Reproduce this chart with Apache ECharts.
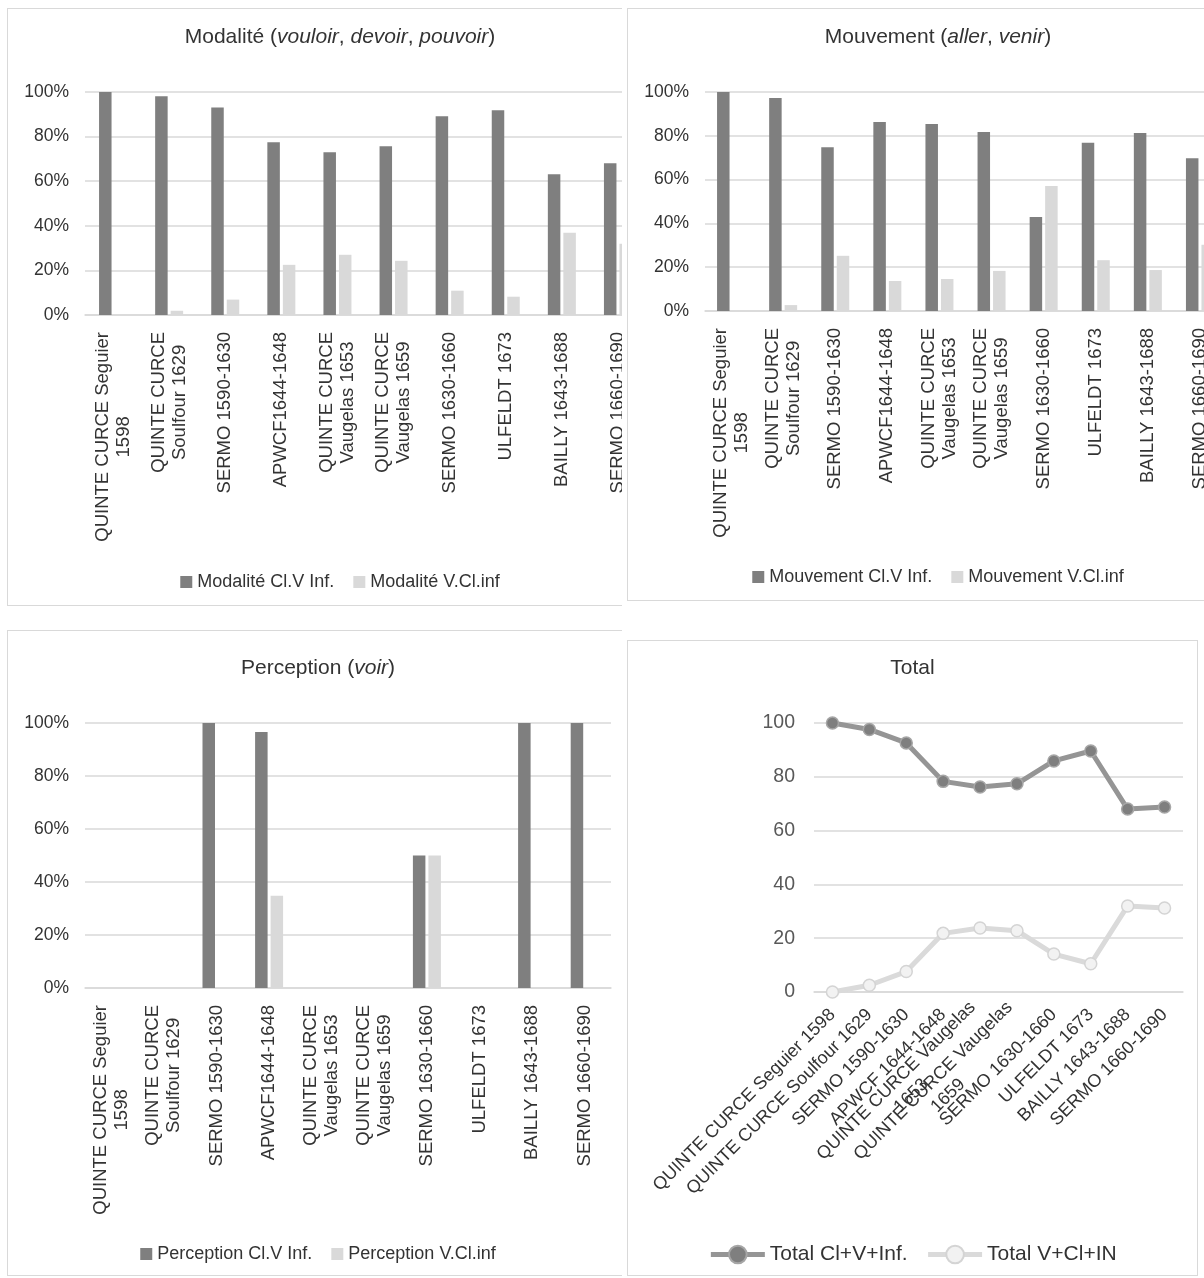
<!DOCTYPE html>
<html>
<head>
<meta charset="utf-8">
<script src="https://cdn.jsdelivr.net/npm/echarts@6/dist/echarts.min.js"></script>
<style>
  body { margin: 0; background: #fff; width: 1204px; height: 1278px; position: relative; overflow: hidden; }
  .clip { position: absolute; overflow: hidden; }
  .box { position: absolute; border: 1px solid #d9d9d9; box-sizing: border-box; background: #fff; }
</style>
</head>
<body>
<div class="clip" style="left:0;top:0;width:622px;height:620px">
  <div class="box" id="c1" style="left:7px;top:8px;width:666px;height:598px"></div>
</div>
<div class="clip" style="left:622px;top:0;width:582px;height:620px">
  <div class="box" id="c2" style="left:5px;top:8px;width:622px;height:593px"></div>
</div>
<div class="clip" style="left:0;top:620px;width:622px;height:658px">
  <div class="box" id="c3" style="left:7px;top:10px;width:622px;height:646px"></div>
</div>
<div class="box" id="c4" style="left:627px;top:640px;width:571px;height:636px"></div>

<script>
// categories (Excel wraps some of them on two lines)
const barCategories = [
  "QUINTE CURCE Seguier\n1598", "QUINTE CURCE\nSoulfour 1629", "SERMO 1590-1630",
  "APWCF1644-1648", "QUINTE CURCE\nVaugelas 1653", "QUINTE CURCE\nVaugelas 1659",
  "SERMO 1630-1660", "ULFELDT 1673", "BAILLY 1643-1688", "SERMO 1660-1690"
];
const totalCategories = [
  "QUINTE CURCE Seguier 1598", "QUINTE CURCE Soulfour 1629", "SERMO 1590-1630",
  "APWCF 1644-1648", "QUINTE CURCE Vaugelas\n1653", "QUINTE CURCE Vaugelas\n1659",
  "SERMO 1630-1660", "ULFELDT 1673", "BAILLY 1643-1688", "SERMO 1660-1690"
];

// valeurs en %
const modaliteClV = [100, 98.1, 93.1, 77.5, 73.0, 75.7, 89.1, 91.8, 63.1, 68.1];
const modaliteVCl = [0, 1.9, 6.9, 22.5, 27.0, 24.3, 10.9, 8.2, 36.9, 31.9];
const mouvementClV = [100, 97.3, 74.8, 86.3, 85.4, 81.7, 42.9, 76.8, 81.3, 69.8];
const mouvementVCl = [0, 2.7, 25.2, 13.7, 14.6, 18.3, 57.1, 23.2, 18.7, 30.2];
const perceptionClV = [0, 0, 100, 96.6, 0, 0, 50, 0, 100, 100];
const perceptionVCl = [0, 0, 0, 34.8, 0, 0, 50, 0, 0, 0];
const totalClV = [100, 97.6, 92.6, 78.3, 76.2, 77.4, 85.9, 89.6, 68.0, 68.8];
const totalVCl = [0, 2.5, 7.6, 21.8, 23.8, 22.8, 14.1, 10.5, 32.0, 31.2];

const FONT = "Liberation Sans, Arial, sans-serif";
const DARK = "#7f7f7f";
const LIGHT = "#d9d9d9";
const TXT = "#333333";

// each line of a label centered, like Excel does
function centerLines(v) {
  return v.split("\n").map((s) => "{c|" + s + "}").join("\n");
}

function titleRich(parts) {
  // parts: [text, italic?]
  return parts.map((p) => (p[1] ? "{i|" + p[0] + "}" : "{n|" + p[0] + "}")).join("");
}

const labelRich = { c: { align: "center", fontSize: 18.5, lineHeight: 21, color: TXT, fontFamily: FONT } };

function barOption(title, titleTop, names, a, b, grid, legendTop) {
  return {
    animation: false,
    textStyle: { fontFamily: FONT },
    title: {
      text: title,
      left: "center",
      top: titleTop,
      textStyle: {
        fontWeight: "normal",
        fontSize: 21,
        rich: {
          n: { fontSize: 21, color: TXT, fontFamily: FONT, fontWeight: "normal" },
          i: { fontSize: 21, color: TXT, fontFamily: FONT, fontWeight: "normal", fontStyle: "italic" },
        },
      },
    },
    legend: {
      left: "center",
      top: legendTop,
      icon: "rect",
      itemWidth: 12,
      itemHeight: 12,
      itemGap: 19,
      textStyle: { fontSize: 18, color: TXT, fontFamily: FONT },
      data: names,
    },
    grid: Object.assign({ containLabel: false, outerBoundsMode: "none" }, grid),
    xAxis: {
      type: "category",
      data: barCategories,
      axisLine: { lineStyle: { color: LIGHT, width: 1.5 } },
      axisTick: { show: false },
      axisLabel: {
        interval: 0,
        rotate: 90,
        margin: 17,
        color: TXT,
        fontSize: 18.5,
        fontFamily: FONT,
        formatter: centerLines,
        rich: labelRich,
      },
    },
    yAxis: {
      type: "value",
      min: 0,
      max: 100,
      interval: 20,
      axisLine: { show: false },
      axisTick: { show: false },
      splitLine: { lineStyle: { color: LIGHT, width: 1.5 } },
      axisLabel: { formatter: "{value}%", fontSize: 17.5, color: TXT, margin: 16, fontFamily: FONT },
    },
    series: [
      { name: names[0], type: "bar", data: a, barWidth: 12.5, barGap: "24%", itemStyle: { color: DARK } },
      { name: names[1], type: "bar", data: b, barWidth: 12.5, barGap: "24%", itemStyle: { color: LIGHT } },
    ],
  };
}

const chart1 = echarts.init(document.getElementById("c1"));
chart1.setOption(
  barOption(
    titleRich([["Modalité ("], ["vouloir", 1], [", "], ["devoir", 1], [", "], ["pouvoir", 1], [")"]]),
    13,
    ["Modalité Cl.V Inf.", "Modalité V.Cl.inf"],
    modaliteClV, modaliteVCl,
    { left: 77, right: 26, top: 83, bottom: 290 },
    559
  )
);

const chart2 = echarts.init(document.getElementById("c2"));
chart2.setOption(
  barOption(
    titleRich([["Mouvement ("], ["aller", 1], [", "], ["venir", 1], [")"]]),
    13,
    ["Mouvement Cl.V Inf.", "Mouvement V.Cl.inf"],
    mouvementClV, mouvementVCl,
    { left: 77, right: 22, top: 83, bottom: 289 },
    554
  )
);

const chart3 = echarts.init(document.getElementById("c3"));
chart3.setOption(
  barOption(
    titleRich([["Perception ("], ["voir", 1], [")"]]),
    22,
    ["Perception Cl.V Inf.", "Perception V.Cl.inf"],
    perceptionClV, perceptionVCl,
    { left: 77, right: 17, top: 92, bottom: 287 },
    609
  )
);

const chart4 = echarts.init(document.getElementById("c4"));
chart4.setOption({
  animation: false,
  textStyle: { fontFamily: FONT },
  title: {
    text: "Total",
    left: "center",
    top: 12,
    textStyle: { fontSize: 21, fontWeight: "normal", color: TXT, fontFamily: FONT },
  },
  legend: {
    left: "center",
    top: 598,
    itemWidth: 54,
    itemHeight: 22,
    itemGap: 18,
    lineStyle: { width: 5 },
    textStyle: { fontSize: 21, color: TXT, fontFamily: FONT },
    data: ["Total Cl+V+Inf.", "Total V+Cl+IN"],
  },
  grid: { left: 186, right: 14, top: 82, bottom: 283, containLabel: false, outerBoundsMode: "none" },
  xAxis: {
    type: "category",
    data: totalCategories,
    axisLine: { lineStyle: { color: LIGHT, width: 1.5 } },
    axisTick: { show: false },
    axisLabel: {
      interval: 0,
      rotate: 45,
      margin: 20,
      color: TXT,
      fontSize: 18,
      fontFamily: FONT,
      formatter: centerLines,
      rich: { c: { align: "center", fontSize: 18, lineHeight: 21, color: TXT, fontFamily: FONT } },
    },
  },
  yAxis: {
    type: "value",
    min: 0,
    max: 100,
    interval: 20,
    axisLine: { show: false },
    axisTick: { show: false },
    splitLine: { lineStyle: { color: LIGHT, width: 1.5 } },
    axisLabel: { fontSize: 19.5, color: "#595959", margin: 19, fontFamily: FONT },
  },
  series: [
    {
      name: "Total Cl+V+Inf.",
      type: "line",
      data: totalClV,
      symbol: "circle",
      symbolSize: 12,
      lineStyle: { color: "#959595", width: 5 },
      itemStyle: { color: "#7f7f7f", borderColor: "#a6a6a6", borderWidth: 1.5 },
    },
    {
      name: "Total V+Cl+IN",
      type: "line",
      data: totalVCl,
      symbol: "circle",
      symbolSize: 12,
      lineStyle: { color: "#dadada", width: 5 },
      itemStyle: { color: "#f2f2f2", borderColor: "#d4d4d4", borderWidth: 1.5 },
    },
  ],
});
</script>
</body>
</html>
